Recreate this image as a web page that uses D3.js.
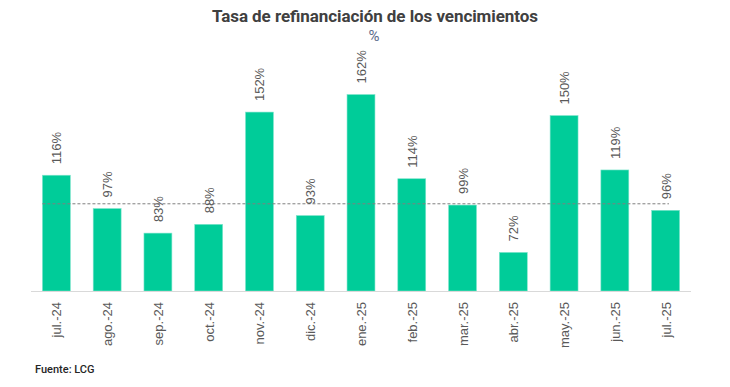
<!DOCTYPE html>
<html>
<head>
<meta charset="utf-8">
<script src="https://cdn.jsdelivr.net/npm/d3@7"></script>
<style>
  body { margin: 0; background: #fff; }
  svg { display: block; font-family: Roboto, "Liberation Sans", sans-serif; }
  .mes, .etq { font-family: "Liberation Sans", Arial, sans-serif; }
</style>
</head>
<body>
<div id="chart"></div>
<script>
// datos
const meses = ["jul.-24", "ago.-24", "sep.-24", "oct.-24", "nov.-24", "dic.-24", "ene.-25",
               "feb.-25", "mar.-25", "abr.-25", "may.-25", "jun.-25", "jul.-25"];
const tasas = [116, 97, 83, 88, 152, 93, 162, 114, 99, 72, 150, 119, 96];
const referencia = [100];

const width = 730, height = 387;
const svg = d3.select("#chart").append("svg")
    .attr("width", width)
    .attr("height", height);

// escalas
const x = d3.scaleBand()
    .domain(meses)
    .range([31, 691])
    .paddingInner(0.45)
    .paddingOuter(0.225);

const y = d3.scaleLinear()
    .domain([50, 170])
    .range([291, 80.5]);

// titulo
svg.append("text")
    .attr("x", 375).attr("y", 22)
    .attr("text-anchor", "middle")
    .style("font-size", "17px")
    .style("font-weight", "bold")
    .attr("fill", "#404040")
    .attr("textLength", 326)
    .text("Tasa de refinanciación de los vencimientos");

svg.append("text")
    .attr("x", 374).attr("y", 41)
    .attr("text-anchor", "middle")
    .style("font-size", "15px")
    .attr("fill", "#5b6b8c")
    .text("%");

// barras
svg.selectAll(".bar")
    .data(tasas)
    .enter().append("rect")
    .attr("class", "bar")
    .attr("x", (d, i) => x(meses[i]))
    .attr("width", x.bandwidth())
    .attr("y", d => y(d))
    .attr("height", d => y(50) - y(d))
    .attr("fill", "#00cc99")
    .attr("stroke", "#7fe5cc")
    .attr("stroke-width", 0.6);

// eje x
svg.append("line")
    .attr("x1", 31).attr("x2", 691)
    .attr("y1", y(50) + 0.5).attr("y2", y(50) + 0.5)
    .attr("stroke", "#d9d9d9")
    .attr("stroke-width", 1.2);

svg.selectAll(".mes")
    .data(meses)
    .enter().append("text")
    .attr("class", "mes")
    .attr("transform", d => `translate(${x(d) + x.bandwidth() / 2 + 5},302) rotate(-90)`)
    .attr("text-anchor", "end")
    .style("font-size", "13px")
    .attr("fill", "#595959")
    .text(d => d);

// linea de referencia
svg.selectAll(".ref")
    .data(referencia)
    .enter().append("line")
    .attr("class", "ref")
    .attr("x1", x(meses[0]))
    .attr("x2", x(meses[meses.length - 1]) + x.bandwidth() * 0.62)
    .attr("y1", d => y(d) + 0.5)
    .attr("y2", d => y(d) + 0.5)
    .attr("stroke", "#7f7f7f")
    .attr("stroke-width", 1)
    .attr("stroke-dasharray", "3,2");

// etiquetas
svg.selectAll(".etq")
    .data(tasas)
    .enter().append("text")
    .attr("class", "etq")
    .attr("transform", (d, i) => `translate(${x(meses[i]) + x.bandwidth() / 2 + 5},${y(d) - 11}) rotate(-90)`)
    .attr("text-anchor", "start")
    .style("font-size", "13px")
    .attr("fill", "#595959")
    .text(d => d + "%");

// fuente
svg.append("text")
    .attr("x", 35).attr("y", 373)
    .style("font-size", "11px")
    .style("font-weight", "500")
    .attr("fill", "#262626")
    .text("Fuente: LCG");
</script>
</body>
</html>
